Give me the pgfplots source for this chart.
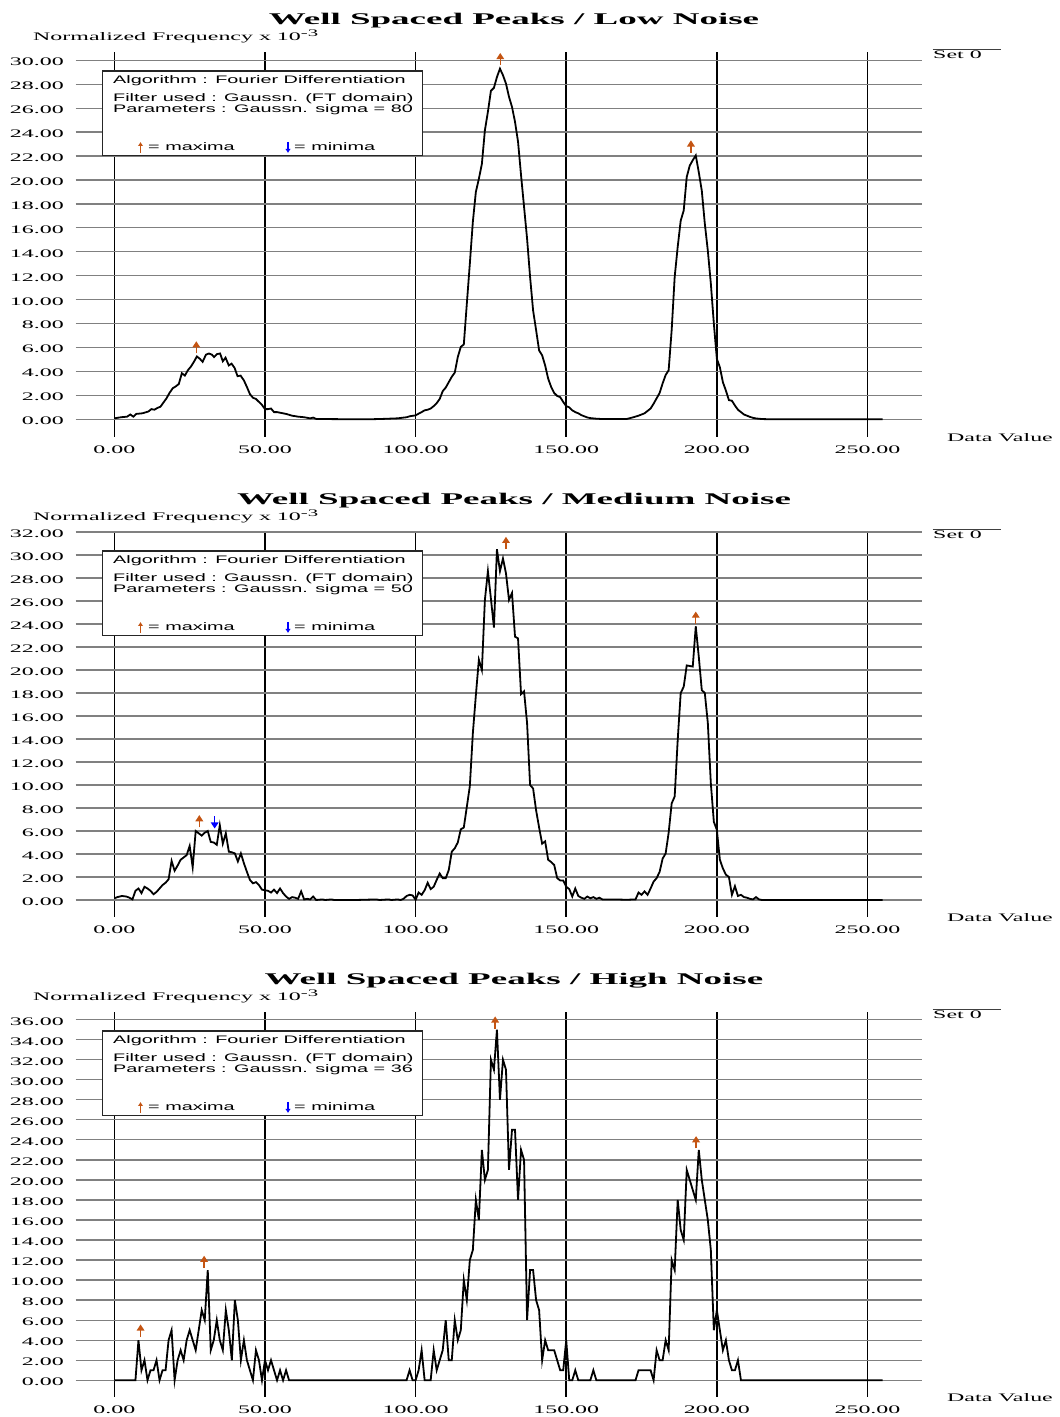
\documentclass[border=0pt]{standalone}
\usepackage{fontspec}
\setmainfont{Liberation Serif}
\setsansfont{Liberation Sans}
\usepackage{graphicx}
\usepackage{pgfplots}
\pgfplotsset{compat=1.18}
\usetikzlibrary{arrows.meta}
\definecolor{arrorange}{RGB}{196,84,18}
\definecolor{arrblue}{RGB}{0,0,255}
\newcommand\ser[1]{{\fontsize{11.5bp}{13bp}\selectfont\scalebox{2.08}[1]{#1}}}
\newcommand\ttl[1]{{\fontsize{16.3bp}{18bp}\selectfont\bfseries\scalebox{2.27}[1]{#1}}}
\newcommand\snf[1]{{\fontsize{10.9bp}{12bp}\selectfont\sffamily\scalebox{1.82}[1]{#1}}}
\newsavebox\upbox
\newsavebox\downbox
\pgfdeclareplotmark{uparr}{%
  \pgfpathmoveto{\pgfqpoint{0bp}{-5.5bp}}%
  \pgfpathlineto{\pgfqpoint{0bp}{2bp}}%
  \pgfusepathqstroke
  \pgfpathmoveto{\pgfqpoint{-2.8bp}{1.2bp}}%
  \pgfpathlineto{\pgfqpoint{0bp}{5.5bp}}%
  \pgfpathlineto{\pgfqpoint{2.8bp}{1.2bp}}%
  \pgfpathclose
  \pgfusepathqfillstroke}
\pgfdeclareplotmark{downarr}{%
  \pgfpathmoveto{\pgfqpoint{0bp}{5.5bp}}%
  \pgfpathlineto{\pgfqpoint{0bp}{-2bp}}%
  \pgfusepathqstroke
  \pgfpathmoveto{\pgfqpoint{-2.8bp}{-1.2bp}}%
  \pgfpathlineto{\pgfqpoint{0bp}{-5.5bp}}%
  \pgfpathlineto{\pgfqpoint{2.8bp}{-1.2bp}}%
  \pgfpathclose
  \pgfusepathqfillstroke}
\newcommand\tlab{\ser{\pgfmathprintnumber[fixed,fixed zerofill,precision=2,assume math mode=true]{\tick}}}
\pgfplotsset{
  panel/.style={scale only axis, width=846.2bp, height=385bp, anchor=south west,
    xmin=-12.9, xmax=268, clip=false,
    axis line style={draw=none}, tick style={draw=none}, major tick length=0pt,
    xtick={0,50,100,150,200,250},
    xmajorgrids, ymajorgrids,
    x grid style={black,line width=1.7bp},
    y grid style={gray,line width=1.3bp},
    xticklabel={\tlab}, yticklabel={\tlab},
    xticklabel style={anchor=north,inner sep=0pt,yshift=-9.3bp},
    yticklabel style={anchor=east,inner sep=0pt,xshift=-11.5bp,yshift=-1.7bp}},
  curve/.style={black,line width=1.8bp,mark=none},
  upmark/.style={only marks,mark=uparr,mark options={draw=arrorange,fill=arrorange,line width=1.3bp}},
  downmark/.style={only marks,mark=downarr,mark options={draw=arrblue,fill=arrblue,line width=1.3bp}}
}
\newcommand\paneltext[2]{%
  \node[anchor=base,inner sep=0pt] at (514bp,1392.7bp) {\ttl{Well Spaced Peaks / #1}};
  \node[anchor=base west,inner sep=0pt] at (33bp,1376.4bp) {\ser{Normalized Frequency x 10\raisebox{3.6bp}{\fontsize{10bp}{10bp}\selectfont -3}}};
  \draw[black!85,line width=1.2bp,fill=white] (102.4bp,1346bp) rectangle (422.6bp,1261.5bp);
  \node[anchor=base west,inner sep=0pt] at (113bp,1333.2bp) {\snf{Algorithm : Fourier Differentiation}};
  \node[anchor=base west,inner sep=0pt] at (113bp,1315bp) {\snf{Filter used : Gaussn. (FT domain)}};
  \node[anchor=base west,inner sep=0pt] at (113bp,1304.4bp) {\snf{Parameters : Gaussn. sigma = #2}};
  \node[anchor=center,inner sep=0pt] at (140.5bp,1269.5bp) {\usebox\upbox};
  \node[anchor=base west,inner sep=0pt] at (148bp,1266bp) {\snf{= maxima}};
  \node[anchor=center,inner sep=0pt] at (288bp,1269.5bp) {\usebox\downbox};
  \node[anchor=base west,inner sep=0pt] at (294bp,1266bp) {\snf{= minima}};
  \draw[black!75,line width=1bp] (932.7bp,1367.7bp) -- (1001bp,1367.7bp);
  \node[anchor=base west,inner sep=0pt] at (933bp,1358.7bp) {\ser{Set 0}};
  \node[anchor=base west,inner sep=0pt] at (947bp,975.3bp) {\ser{Data Value}};
}
\begin{document}
\sbox\upbox{\tikz\draw[arrorange,line width=1.3bp,-{Latex[length=4bp,width=5.5bp]}] (0,0)--(0,11bp);}%
\sbox\downbox{\tikz\draw[arrblue,line width=1.3bp,-{Latex[length=4bp,width=5.5bp]}] (0,11bp)--(0,0);}%
\begin{tikzpicture}
\useasboundingbox (0,0) rectangle (1060bp,1417bp);
% ---------------- Panel 1 ----------------
\begin{axis}[panel, at={(75.5bp,980.3bp)}, ymin=-1.454, ymax=30.72, ytick={0,2,...,30}]
\addplot[curve] coordinates {
(0,0.08) (2.2,0.17) (4.2,0.22) (5.3,0.4) (6.3,0.22) (7.3,0.45) (9.3,0.5) (11.3,0.65)
(12.3,0.85) (13.3,0.8) (14.3,0.95) (15.3,1.05) (16.3,1.4) (17.3,1.75) (18.3,2.2) (19.4,2.6)
(20.4,2.75) (21.4,2.95) (22.4,3.85) (23.4,3.65) (24.4,4.1) (25.4,4.4) (26.4,4.8) (27.4,5.25)
(28.4,5.05) (29.3,4.8) (30.4,5.4) (31.4,5.5) (32.4,5.4) (33.1,5.2) (34.1,5.45) (35.1,5.5)
(36,4.85) (36.9,5.15) (38,4.5) (38.9,4.65) (39.9,4.3) (40.9,3.6) (41.9,3.65) (43,3.25)
(44,2.7) (45,2.1) (46,1.8) (47,1.7) (48,1.45) (49,1.2) (50,0.85) (51,0.85) (52,0.9)
(53,0.6) (54,0.6) (55,0.55) (57,0.45) (59,0.3) (61,0.22) (63,0.17) (65,0.08) (66,0.14)
(67,0.03) (70,0.02) (80,0.0) (86,0.01) (89,0.03) (94,0.08) (97,0.17) (98,0.25)
(100,0.33) (101,0.47) (102,0.6) (103,0.75) (104,0.8) (105,0.9) (106,1.1) (107,1.35)
(108,1.7) (109,2.35) (110,2.65) (111,3.1) (112,3.55) (113,3.9) (114,5.2) (115,6.05)
(116,6.25) (117,9.65) (118,13.0) (119,16.5) (120,19.0) (121,20.1) (122,21.35) (123,24.15)
(124,25.7) (125,27.45) (126,27.7) (127,28.6) (128,29.3) (129,28.75) (130,28.05) (131,26.95)
(132,26.1) (133,24.85) (134,23.2) (135,20.4) (136,17.75) (137,15.1) (138,11.9) (139,9.1)
(140,7.45) (141,5.75) (142,5.35) (143,4.5) (144,3.4) (145,2.7) (146,2.2) (147,1.95)
(148,1.85) (149,1.45) (150,1.1) (151,1.0) (152,0.75) (153,0.6) (154,0.5) (155,0.35)
(156,0.25) (157,0.15) (158,0.1) (160,0.05) (162,0.02) (170,0.02) (172,0.15) (174,0.3)
(176,0.5) (177,0.7) (178,0.9) (179,1.3) (180,1.75) (181,2.2) (182,3.0) (183,3.7)
(184,4.1) (185,7.45) (186,11.9) (187,14.4) (188,16.6) (189,17.45) (190,20.25) (191,21.2)
(192,21.65) (193,22.05) (194,20.65) (195,19.1) (196,16.35) (197,14.1) (198,11.35) (199,8.0)
(200,5.05) (201,4.35) (202,3.1) (203,2.4) (204,1.6) (205,1.55) (206,1.15) (207,0.8)
(208,0.6) (209,0.4) (210,0.3) (211,0.2) (212,0.12) (213,0.07) (215,0.02) (218,0) (255,0)
};
\addplot[upmark] coordinates {(27.2,5.96) (128.1,30.05) (191.4,22.75)};
\end{axis}
% ---------------- Panel 2 ----------------
\begin{axis}[panel, at={(75.5bp,500.3bp)}, ymin=-1.452, ymax=32.03, ytick={0,2,...,32}]
\addplot[curve] coordinates {
(0,0.15) (1,0.25) (2.5,0.35) (4,0.3) (5,0.2) (6,0.05) (7,0.8) (8,1.0) (9,0.6) (10,1.15)
(11,1.0) (12,0.8) (13,0.5) (14,0.7) (15,1.0) (16,1.3) (17,1.5) (18,1.8) (19,3.4) (20,2.55)
(21,3.0) (22,3.5) (23,3.7) (24,3.9) (25,4.7) (26,2.85) (27,6.0) (28,5.8) (29,5.6) (30,5.85)
(31,6.0) (32,5.05) (33,5.0) (34,4.8) (35,6.5) (36,4.9) (37,5.8) (38,4.2) (39,4.15) (40,4.05)
(41,3.35) (42,4.05) (43,3.2) (44,2.45) (45,1.75) (46,1.45) (47,1.55) (48,1.3) (49,0.9)
(50,0.85) (51,0.8) (52,0.65) (53,0.9) (54,0.6) (55,1.0) (56,0.6) (57,0.3) (58,0.1)
(59,0.25) (60,0.2) (61,0.1) (62,0.75) (63,0.05) (64,0.1) (65,0.05) (66,0.3) (67,0)
(69,0.05) (70,0) (72,0.05) (73,0) (80,0) (87,0.05) (88,0) (91,0.05) (92,0) (94,0.05)
(95,0) (96,0.1) (97,0.35) (98,0.45) (99,0.4) (100,0.02) (101,0.65) (102,0.45) (103,0.85)
(104,1.5) (105,0.95) (106,1.15) (107,1.75) (108,2.3) (109,1.9) (110,1.9) (111,2.6)
(112,4.2) (113,4.5) (114,5.0) (115,6.15) (116,6.3) (117,8.1) (118,9.9) (119,14.5)
(120,17.8) (121,20.9) (122,20.0) (123,26.1) (124,28.6) (125,26.2) (126,23.7) (127,30.5)
(128,28.6) (129,29.7) (130,28.4) (131,26.1) (132,26.7) (133,22.9) (134,22.75) (135,17.9)
(136,18.15) (137,15.4) (138,10.0) (139,9.7) (140,7.8) (141,6.3) (142,4.9) (143,5.1)
(144,3.5) (145,3.3) (146,3.05) (147,1.9) (148,1.7) (149,1.7) (150,1.15) (151,0.95)
(152,0.3) (153,1.0) (154,0.35) (155,0.2) (156,0.1) (157,0.3) (158,0.15) (159,0.25)
(160,0.1) (161,0.2) (162,0.05) (166,0.05) (170,0.02) (173,0.05) (174,0.65) (175,0.45)
(176,0.75) (177,0.45) (178,1.0) (179,1.6) (180,1.9) (181,2.45) (182,3.6) (183,4.05)
(184,5.85) (185,8.4) (186,9.0) (187,13.9) (188,18.0) (189,18.55) (190,20.4) (191,20.35)
(192,20.3) (193,23.8) (194,21.15) (195,18.25) (196,18.0) (197,15.4) (198,10.15) (199,6.8)
(200,6.1) (201,3.5) (202,2.75) (203,2.2) (204,2.0) (205,0.45) (206,1.2) (207,0.35)
(208,0.45) (209,0.25) (210,0.2) (211,0.1) (212,0.05) (213,0.25) (214,0.05) (215,0) (255,0)
};
\addplot[upmark] coordinates {(28.2,6.8) (130.0,31.0) (193.0,24.5)};
\addplot[downmark] coordinates {(33.3,6.8)};
\end{axis}
% ---------------- Panel 3 ----------------
\begin{axis}[panel, at={(75.5bp,20.3bp)}, ymin=-1.64, ymax=36.79, ytick={0,2,...,36}]
\addplot[curve] coordinates {
(0,0) (7,0) (8,4) (9,1) (10,2) (11,0) (12,1) (13,1) (14,2) (15,0) (16,1) (17,1) (18,4)
(19,5) (20,0) (21,2) (22,3) (23,2) (24,4) (25,5) (26,4) (27,3) (28,5) (29,7) (30,6)
(31,11) (32,3) (33,4) (34,6) (35,4) (36,3) (37,7) (38,5) (39,2) (40,8) (41,6) (42,2)
(43,4) (44,2) (45,1) (46,0) (47,3) (48,2) (49,0) (50,2) (51,1) (52,2) (53,1) (54,0)
(55,1) (56,0) (57,1) (58,0) (97,0) (98,1) (99,0) (100,0) (101,1) (102,3) (103,0) (105,0)
(106,3) (107,1) (108,2) (109,3) (110,6) (111,2) (112,2) (113,6) (114,4) (115,5) (116,10)
(117,8) (118,12) (119,13) (120,18) (121,16) (122,23) (123,20) (124,21) (125,32) (126,31)
(127,35) (128,28) (129,32) (130,31) (131,21) (132,25) (133,25) (134,18) (135,23) (136,22)
(137,6) (138,11) (139,11) (140,8) (141,7) (142,2) (143,4) (144,3) (145,3) (146,3) (147,2)
(148,1) (149,1) (150,4) (151,0) (152,0) (153,1) (154,0) (158,0) (159,1) (160,0) (173,0)
(174,1) (178,1) (179,0) (180,3) (181,2) (182,2) (183,4) (184,3) (185,12) (186,11)
(187,18) (188,15) (189,14) (190,21) (191,20) (192,19) (193,18) (194,23) (195,20) (196,18)
(197,16) (198,13) (199,5) (200,7) (201,5) (202,3) (203,4) (204,2) (205,1) (206,1) (207,2)
(208,0) (255,0)
};
\addplot[upmark] coordinates {(8.7,4.9) (29.8,11.76) (126.4,35.65) (193.1,23.7)};
\end{axis}
% ---------------- texts ----------------
\begin{scope}\paneltext{Low Noise}{80}\end{scope}
\begin{scope}[yshift=-480bp]\paneltext{Medium Noise}{50}\end{scope}
\begin{scope}[yshift=-960bp]\paneltext{High Noise}{36}\end{scope}
\end{tikzpicture}
\end{document}
